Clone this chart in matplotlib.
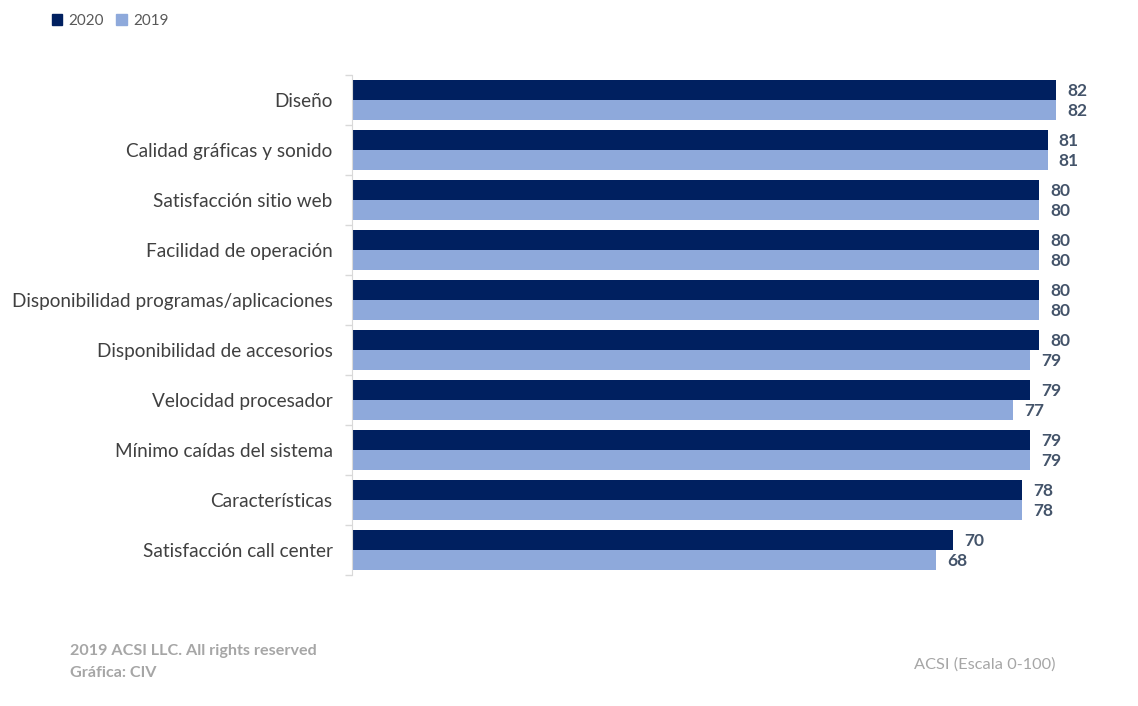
import numpy as np
import matplotlib.pyplot as plt
from matplotlib.patches import Patch

categories = ["Diseño", "Calidad gráficas y sonido", "Satisfacción sitio web",
              "Facilidad de operación", "Disponibilidad programas/aplicaciones",
              "Disponibilidad de accesorios", "Velocidad procesador",
              "Mínimo caídas del sistema", "Características",
              "Satisfacción call center"]
values_2020 = [82, 81, 80, 80, 80, 80, 79, 79, 78, 70]
values_2019 = [82, 81, 80, 80, 80, 79, 77, 79, 78, 68]

c2020 = "#002060"
c2019 = "#8EA9DB"
font = ["Lato", "DejaVu Sans"]
plt.rcParams['font.family'] = font

fig = plt.figure(figsize=(11.38, 7.06), dpi=100)
ax = fig.add_axes([352 / 1138, 1 - 575 / 706, (1100 - 352) / 1138, 500 / 706])

y = np.arange(len(categories))
h = 0.4
b1 = ax.barh(y - h / 2, values_2020, height=h, color=c2020)
b2 = ax.barh(y + h / 2, values_2019, height=h, color=c2019)

# value labels next to each bar
for bars in (b1, b2):
    for bar in bars:
        w = bar.get_width()
        ax.text(w + 1.3, bar.get_y() + bar.get_height() / 2 + 0.02, f"{w:g}",
                va="center", ha="left", fontsize=12.5, fontweight="bold",
                color="#44546A")

ax.set_xlim(0, 87.1)
ax.set_ylim(len(categories) - 0.5, -0.5)
ax.set_yticks(y)
ax.set_yticklabels(categories, fontsize=13.7, color="#404040")
ax.set_yticks(np.arange(-0.5, len(categories)), minor=True)
ax.tick_params(axis="y", which="major", length=0, pad=14)
ax.tick_params(axis="y", which="minor", length=5, color="#D9D9D9", width=1)
ax.set_xticks([])
for s in ("top", "right", "bottom"):
    ax.spines[s].set_visible(False)
ax.spines["left"].set_color("#D9D9D9")

handles = [Patch(color=c2020, label="2020"), Patch(color=c2019, label="2019")]
fig.legend(handles=handles, loc="upper left", bbox_to_anchor=(38 / 1138, 1.0),
           ncol=2, frameon=False, fontsize=11, handlelength=0.7, handleheight=0.7,
           handletextpad=0.4, columnspacing=0.8, labelcolor="#595959")

fig.text(70 / 1138, 1 - 651 / 706, "2019 ACSI LLC. All rights reserved",
         fontsize=11.6, fontweight="bold", color="#A6A6A6", va="center")
fig.text(70 / 1138, 1 - 673 / 706, "Gráfica: CIV",
         fontsize=11.6, fontweight="bold", color="#A6A6A6", va="center")
fig.text(1055 / 1138, 1 - 665 / 706, "ACSI (Escala 0-100)",
         fontsize=11.8, color="#A6A6A6", va="center", ha="right")

fig.savefig("out.png", dpi=100, facecolor="white")
